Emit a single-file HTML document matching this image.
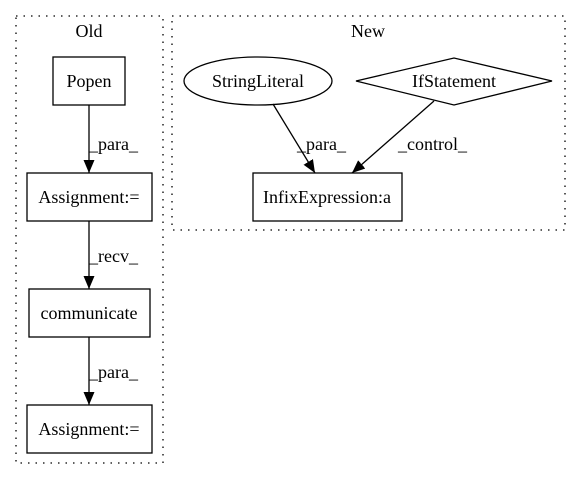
<!DOCTYPE html>
<html><head><style>body{margin:0;background:#fff}</style></head><body>
<svg width="580" height="480" xmlns="http://www.w3.org/2000/svg" font-family="'Liberation Serif',serif" font-size="18">
<defs><marker id="a" markerWidth="12" markerHeight="12" refX="13" refY="5.5" orient="auto" markerUnits="userSpaceOnUse"><path d="M0,0 L13,5.5 L0,11 Z" fill="#000"/></marker></defs>
<rect x="16" y="16" width="147" height="447" fill="none" stroke="#000" stroke-width="1.3" stroke-dasharray="1.5,6"/>
<text x="89" y="37" text-anchor="middle">Old</text>
<rect x="172" y="16" width="393" height="214" fill="none" stroke="#000" stroke-width="1.3" stroke-dasharray="1.5,6"/>
<text x="368" y="37" text-anchor="middle">New</text>
<g fill="none" stroke="#000" stroke-width="1.3">
<rect x="53" y="57" width="72" height="48"/>
<rect x="27" y="173" width="125" height="48"/>
<rect x="29" y="289" width="121" height="48"/>
<rect x="27" y="405" width="125" height="48"/>
<ellipse cx="258" cy="81" rx="74" ry="24"/>
<polygon points="356,81 454,58 552,81 454,105"/>
<rect x="253" y="173" width="149" height="48"/>
<line x1="89" y1="105" x2="89" y2="173" marker-end="url(#a)"/>
<line x1="89" y1="221" x2="89" y2="289" marker-end="url(#a)"/>
<line x1="89" y1="337" x2="89" y2="405" marker-end="url(#a)"/>
<line x1="273" y1="104" x2="315" y2="173" marker-end="url(#a)"/>
<line x1="434" y1="101" x2="352" y2="173" marker-end="url(#a)"/>
</g>
<g text-anchor="middle">
<text x="89" y="87">Popen</text>
<text x="89" y="203">Assignment:=</text>
<text x="89" y="319">communicate</text>
<text x="89" y="435">Assignment:=</text>
<text x="258" y="87">StringLiteral</text>
<text x="454" y="87">IfStatement</text>
<text x="327" y="203">InfixExpression:a</text>
</g>
<text x="89" y="150">_para_</text>
<text x="89" y="262">_recv_</text>
<text x="89" y="378">_para_</text>
<text x="297" y="150">_para_</text>
<text x="398" y="150">_control_</text>
</svg>
</body></html>
